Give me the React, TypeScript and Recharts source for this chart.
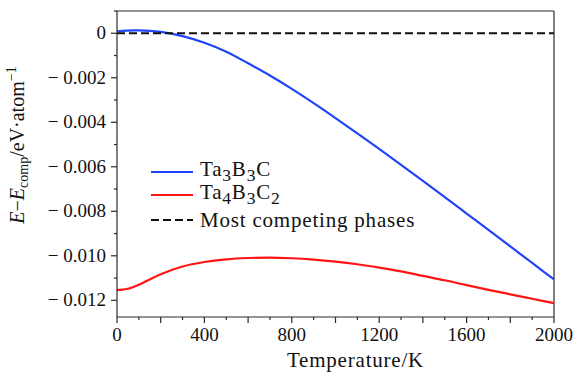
import { LineChart, Line, XAxis, YAxis, Legend, ReferenceLine } from "recharts";

// temperature (K)
const temps = [0, 25, 50, 75, 100, 150, 200, 300, 400, 500, 600, 700, 800, 900, 1000, 1100, 1200, 1300, 1400, 1500, 1600, 1700, 1800, 1900, 2000];

// E - E_comp (eV/atom)
const ta3b3c = [0.00009, 0.00011, 0.00012, 0.000128, 0.00013, 0.00011, 0.00006, -0.00013, -0.00043, -0.00083, -0.00135, -0.0019, -0.0025, -0.00314, -0.00381, -0.0045, -0.0052, -0.00591, -0.00663, -0.00736, -0.0081, -0.00884, -0.00958, -0.01032, -0.01106];
const ta4b3c2 = [-0.01153, -0.01152, -0.01148, -0.0114, -0.0113, -0.01106, -0.01083, -0.01048, -0.01028, -0.01016, -0.0101, -0.01008, -0.01011, -0.01017, -0.01026, -0.01038, -0.01053, -0.0107, -0.0109, -0.0111, -0.01132, -0.01153, -0.01173, -0.01193, -0.01213];
const competing = temps.map(() => 0);

const xTicks = [0, 100, 200, 300, 400, 500, 600, 700, 800, 900, 1000, 1100, 1200, 1300, 1400, 1500, 1600, 1700, 1800, 1900, 2000];
const yTicks = [0.001, 0, -0.001, -0.002, -0.003, -0.004, -0.005, -0.006, -0.007, -0.008, -0.009, -0.01, -0.011, -0.012];

const data = temps.map((t, i) => ({
  t,
  a: ta3b3c[i],
  b: ta4b3c2[i],
  c: competing[i],
}));

const FONT = '"Liberation Serif", "DejaVu Serif", serif';
const AXIS = "#2a2a2a";
const BLUE = "#1f45fc";
const RED = "#ff1414";

function XTick(props: any) {
  const { x, y, payload } = props;
  const v = payload.value as number;
  const major = v % 200 === 0;
  return (
    <g>
      <line x1={x} x2={x} y1={y} y2={y + (major ? 6 : 3)} stroke={AXIS} strokeWidth={1.2} />
      {v % 400 === 0 && (
        <text x={x} y={y + 24} textAnchor="middle" fontFamily={FONT} fontSize={19} fill="#111">
          {v}
        </text>
      )}
    </g>
  );
}

function YTick(props: any) {
  const { x, y, payload } = props;
  const v = payload.value as number;
  const k = Math.round(v * 1000);
  const major = k % 2 === 0;
  const label = k === 0 ? "0" : "\u2212\u00a0" + Math.abs(v).toFixed(3);
  return (
    <g>
      <line x1={x} x2={x - (major ? 6 : 3)} y1={y} y2={y} stroke={AXIS} strokeWidth={1.2} />
      {major && k <= 0 && (
        <text x={x - 11} y={y + 6} textAnchor="end" fontFamily={FONT} fontSize={19} fill="#111">
          {label}
        </text>
      )}
    </g>
  );
}

function YLabel() {
  return (
    <text transform="rotate(-90)" x={-145} y={24} textAnchor="middle" fontFamily={FONT} fontSize={20} fill="#111">
      <tspan fontStyle="italic">E</tspan>
      <tspan>{"\u2212"}</tspan>
      <tspan fontStyle="italic">E</tspan>
      <tspan fontSize={14} dy={4}>comp</tspan>
      <tspan dy={-4}>/eV·atom</tspan>
      <tspan fontSize={14} dy={-8}>{"\u22121"}</tspan>
    </text>
  );
}

function LegendBox() {
  const rows = [
    { color: BLUE, dash: "", label: <>Ta<sub>3</sub>B<sub>3</sub>C</>, top: 0 },
    { color: RED, dash: "", label: <>Ta<sub>4</sub>B<sub>3</sub>C<sub>2</sub></>, top: 23 },
    { color: "#111", dash: "8 4", label: <>Most competing phases</>, top: 48 },
  ];
  return (
    <div style={{ position: "relative", width: 320, height: 80, fontFamily: FONT, fontSize: 21, letterSpacing: 0.8, color: "#111" }}>
      {rows.map((r, i) => (
        <div key={i} style={{ position: "absolute", left: 0, top: r.top, height: 24, display: "flex", alignItems: "center", whiteSpace: "nowrap" }}>
          <svg width={42} height={4} style={{ marginRight: 7 }}>
            <line x1={0} x2={42} y1={2} y2={2} stroke={r.color} strokeWidth={2.2} strokeDasharray={r.dash} />
          </svg>
          <span style={{ lineHeight: "24px" }}>{r.label}</span>
        </div>
      ))}
    </div>
  );
}

export default function App() {
  return (
    <div style={{ position: "absolute", left: 0, top: 0, background: "#fff" }}>
      <LineChart width={579} height={372} data={data} margin={{ top: 11, right: 25, left: 0, bottom: 0 }}>
        <XAxis
          dataKey="t"
          type="number"
          domain={[0, 2000]}
          ticks={xTicks}
          tick={XTick}
          tickLine={false}
          tickSize={0}
          tickMargin={0}
          height={55}
          stroke={AXIS}
          strokeWidth={1.2}
          interval={0}
          label={{ value: "Temperature/K", position: "insideBottom", dx: 20, dy: 0, fontFamily: FONT, fontSize: 21, letterSpacing: 0.8, fill: "#111" }}
        />
        <YAxis
          type="number"
          domain={[-0.01275, 0.001]}
          ticks={yTicks}
          tick={YTick}
          tickLine={false}
          tickSize={0}
          tickMargin={0}
          width={117}
          stroke={AXIS}
          strokeWidth={1.2}
          interval={0}
          allowDataOverflow
          label={<YLabel />}
        />
        <ReferenceLine y={0.001} stroke={AXIS} strokeWidth={1.2} />
        <ReferenceLine x={2000} stroke={AXIS} strokeWidth={1.2} />
        <Legend
          content={<LegendBox />}
          layout="horizontal"
          verticalAlign="middle"
          align="center"
          wrapperStyle={{ position: "absolute", left: 151, top: 160, width: 320 }}
        />
        <Line dataKey="a" type="monotone" stroke={BLUE} strokeWidth={2.2} dot={false} isAnimationActive={false} />
        <Line dataKey="b" type="monotone" stroke={RED} strokeWidth={2.2} dot={false} isAnimationActive={false} />
        <Line dataKey="c" type="linear" stroke="#111" strokeWidth={2.2} strokeDasharray="8 4" dot={false} isAnimationActive={false} />
      </LineChart>
    </div>
  );
}
